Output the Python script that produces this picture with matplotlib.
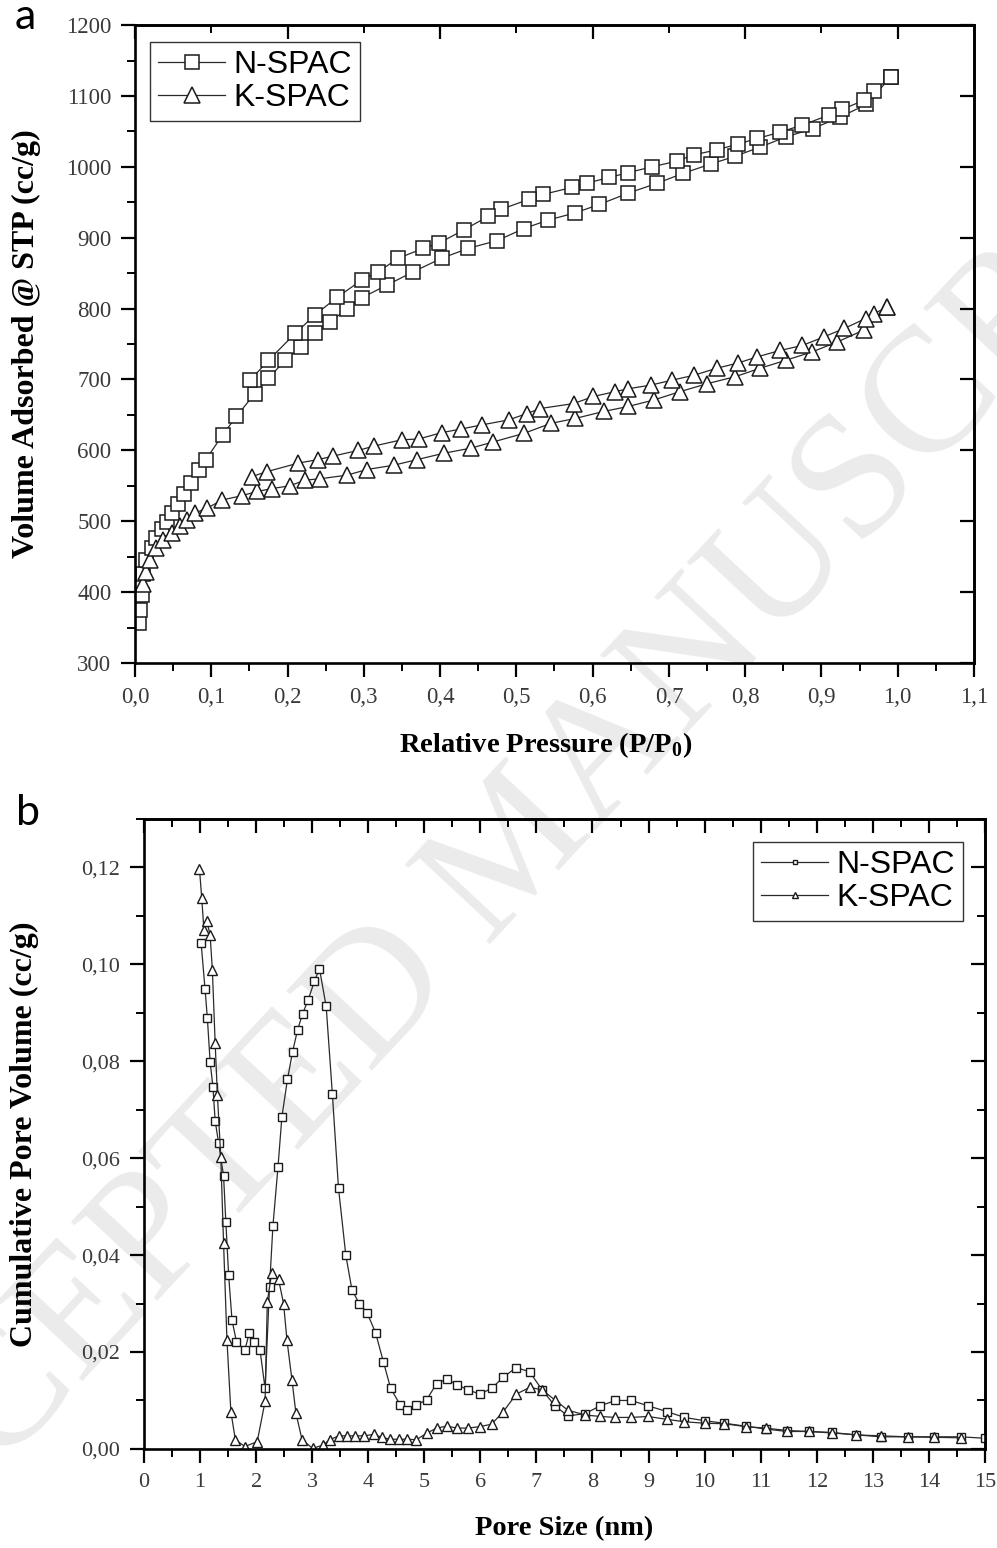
import matplotlib.pyplot as plt
from matplotlib.ticker import MultipleLocator, FuncFormatter, NullFormatter

# (a) N2 isotherms
n_ads_p = [0.005, 0.007, 0.009, 0.011, 0.015, 0.022, 0.028, 0.035, 0.042, 0.049, 0.057, 0.064,
           0.073, 0.084, 0.093, 0.115, 0.133, 0.157, 0.175, 0.197, 0.217, 0.236, 0.256, 0.278,
           0.297, 0.330, 0.365, 0.402, 0.437, 0.475, 0.510, 0.542, 0.577, 0.609, 0.647, 0.685,
           0.719, 0.755, 0.787, 0.820, 0.853, 0.889, 0.924, 0.959, 0.991]
n_ads_v = [356, 375, 396, 426, 445, 462, 476, 489, 499, 511, 524, 539,
           554, 573, 587, 622, 648, 680, 702, 727, 746, 765, 781, 800,
           815, 833, 852, 871, 885, 896, 913, 925, 935, 947, 963, 977,
           991, 1004, 1015, 1028, 1042, 1054, 1070, 1088, 1127]
n_des_p = [0.991, 0.969, 0.956, 0.927, 0.910, 0.875, 0.846, 0.816, 0.790, 0.763, 0.733, 0.710,
           0.678, 0.647, 0.622, 0.592, 0.573, 0.535, 0.516, 0.480, 0.463, 0.431, 0.398, 0.378,
           0.345, 0.319, 0.297, 0.265, 0.236, 0.210, 0.175, 0.151]
n_des_v = [1127, 1107, 1094, 1081, 1073, 1059, 1049, 1040, 1032, 1024, 1017, 1008,
           1000, 992, 985, 977, 971, 961, 954, 940, 930, 911, 892, 885,
           871, 852, 840, 816, 791, 765, 727, 699]

k_ads_p = [0.011, 0.014, 0.020, 0.028, 0.037, 0.048, 0.059, 0.068, 0.079, 0.094, 0.114, 0.140,
           0.160, 0.179, 0.203, 0.223, 0.243, 0.278, 0.304, 0.339, 0.370, 0.405, 0.440, 0.470,
           0.510, 0.545, 0.577, 0.615, 0.647, 0.680, 0.715, 0.750, 0.787, 0.820, 0.853, 0.888,
           0.921, 0.956, 0.986]
k_ads_v = [412, 429, 445, 462, 474, 484, 493, 502, 512, 518, 530, 536,
           542, 546, 550, 558, 560, 565, 573, 579, 587, 596, 603, 612,
           624, 638, 645, 655, 662, 671, 683, 694, 704, 716, 727, 739,
           753, 770, 802]
k_des_p = [0.986, 0.969, 0.958, 0.930, 0.903, 0.875, 0.846, 0.816, 0.790, 0.763, 0.733, 0.704,
           0.676, 0.647, 0.630, 0.601, 0.575, 0.531, 0.514, 0.490, 0.455, 0.427, 0.402, 0.372,
           0.350, 0.313, 0.293, 0.260, 0.240, 0.214, 0.173, 0.153]
k_des_v = [802, 793, 786, 772, 760, 748, 741, 732, 723, 716, 706, 699,
           692, 687, 683, 676, 666, 659, 652, 643, 636, 630, 625, 616,
           615, 606, 600, 592, 587, 582, 570, 563]

# (b) pore size distribution
n_size = [1.02, 1.09, 1.13, 1.18, 1.23, 1.27, 1.33, 1.42, 1.46, 1.51, 1.57, 1.65, 1.80, 1.88,
          1.96, 2.07, 2.16, 2.24, 2.30, 2.39, 2.46, 2.56, 2.65, 2.74, 2.83, 2.93, 3.04, 3.13,
          3.25, 3.36, 3.47, 3.60, 3.71, 3.84, 3.98, 4.13, 4.27, 4.40, 4.57, 4.70, 4.86, 5.04,
          5.22, 5.40, 5.59, 5.78, 5.99, 6.20, 6.41, 6.64, 6.88, 7.10, 7.33, 7.56, 7.87, 8.14,
          8.41, 8.69, 8.99, 9.33, 9.64, 10.01, 10.35, 10.73, 11.09, 11.47, 11.86, 12.27, 12.70,
          13.15, 13.62, 14.09, 14.57, 15.0]
n_vol = [0.1043, 0.0948, 0.0890, 0.0799, 0.0747, 0.0677, 0.0632, 0.0563, 0.0469, 0.0359, 0.0266,
         0.0221, 0.0204, 0.0240, 0.0221, 0.0204, 0.0125, 0.0335, 0.0460, 0.0581, 0.0685, 0.0763,
         0.0819, 0.0865, 0.0898, 0.0927, 0.0965, 0.0991, 0.0913, 0.0733, 0.0538, 0.0400, 0.0328,
         0.0300, 0.0281, 0.0240, 0.0180, 0.0125, 0.0091, 0.0080, 0.0091, 0.0101, 0.0135, 0.0144,
         0.0132, 0.0122, 0.0113, 0.0125, 0.0148, 0.0168, 0.0159, 0.0122, 0.0089, 0.0068, 0.0073,
         0.0089, 0.0100, 0.0100, 0.0089, 0.0077, 0.0065, 0.0058, 0.0053, 0.0047, 0.0041, 0.0036,
         0.0036, 0.0034, 0.0029, 0.0025, 0.0025, 0.0025, 0.0025, 0.0022]
k_size = [0.99, 1.03, 1.07, 1.12, 1.18, 1.22, 1.27, 1.31, 1.37, 1.42, 1.48, 1.55, 1.63, 1.80,
          2.02, 2.16, 2.20, 2.28, 2.40, 2.49, 2.55, 2.64, 2.71, 2.82, 3.01, 3.19, 3.32, 3.47,
          3.62, 3.77, 3.92, 4.10, 4.24, 4.39, 4.54, 4.70, 4.86, 5.05, 5.22, 5.40, 5.59, 5.78,
          5.99, 6.20, 6.41, 6.64, 6.88, 7.10, 7.33, 7.56, 7.87, 8.14, 8.41, 8.69, 8.99, 9.33,
          9.64, 10.01, 10.35, 10.73, 11.09, 11.47, 11.86, 12.27, 12.70, 13.15, 13.62, 14.09, 14.57]
k_vol = [0.1197, 0.1137, 0.1070, 0.1090, 0.1060, 0.0988, 0.0837, 0.0730, 0.0603, 0.0424, 0.0225,
         0.0077, 0.0019, 0.0005, 0.0015, 0.0098, 0.0304, 0.0364, 0.0350, 0.0300, 0.0225, 0.0142,
         0.0074, 0.0019, 0.0001, 0.0008, 0.0019, 0.0027, 0.0027, 0.0027, 0.0027, 0.0030, 0.0024,
         0.0020, 0.0020, 0.0020, 0.0019, 0.0033, 0.0043, 0.0047, 0.0043, 0.0043, 0.0046, 0.0051,
         0.0077, 0.0113, 0.0127, 0.0122, 0.0101, 0.0080, 0.0070, 0.0067, 0.0065, 0.0065, 0.0067,
         0.0061, 0.0056, 0.0053, 0.0052, 0.0046, 0.0043, 0.0038, 0.0036, 0.0033, 0.0029, 0.0027,
         0.0025, 0.0024, 0.0023]

serif = 'Liberation Serif'
sans = 'Liberation Sans'
tick_col = '#3a3a3a'
line_col = '#2a2a2a'


def comma(fmt):
    return FuncFormatter(lambda v, pos: format(v, fmt).replace('.', ','))


def style(ax, xmaj, xmin, ymaj, ymin, top_maj, top_min, right_min, tsize):
    for s in ax.spines.values():
        s.set_linewidth(1.9)
    ax.xaxis.set_major_locator(MultipleLocator(xmaj))
    ax.xaxis.set_minor_locator(MultipleLocator(xmin))
    ax.yaxis.set_major_locator(MultipleLocator(ymaj))
    ax.yaxis.set_minor_locator(MultipleLocator(ymin))
    ax.tick_params(which='major', direction='out', length=10, width=1.6, pad=7,
                   labelsize=tsize, labelcolor=tick_col)
    ax.tick_params(which='minor', direction='out', length=5.5, width=1.4)
    for lab in ax.get_xticklabels() + ax.get_yticklabels():
        lab.set_fontfamily(serif)

    # Origin-style mirrored ticks, pointing inward
    top = ax.secondary_xaxis('top')
    top.xaxis.set_major_locator(MultipleLocator(top_maj))
    top.xaxis.set_minor_locator(MultipleLocator(top_min))
    top.xaxis.set_major_formatter(NullFormatter())
    top.tick_params(which='major', direction='in', length=10, width=1.6)
    top.tick_params(which='minor', direction='in', length=5.5, width=1.4)
    top.spines['top'].set_linewidth(1.9)
    right = ax.secondary_yaxis('right')
    right.yaxis.set_major_locator(MultipleLocator(ymaj))
    if right_min:
        right.yaxis.set_minor_locator(MultipleLocator(right_min))
    else:
        right.yaxis.set_minor_locator(plt.NullLocator())
    right.yaxis.set_major_formatter(NullFormatter())
    right.tick_params(which='major', direction='in', length=10, width=1.6)
    right.tick_params(which='minor', direction='in', length=5.5, width=1.4)
    right.spines['right'].set_linewidth(1.9)


fig = plt.figure(figsize=(9.97, 15.48), dpi=100)

# faint diagonal watermark behind the plots (runs off the page, as in the original)
fig.text(0.52, 0.45, 'ACCEPTED MANUSCRIPT', rotation=47, ha='center', va='center',
         fontsize=128, family=serif, color='#ebebeb', zorder=-1)

# ---- panel a ----
ax1 = fig.add_axes([0.1354, 0.5717, 0.8415, 0.4121])
ax1.patch.set_alpha(0)
mk_a = dict(color=line_col, lw=0.9, mfc='white', mec='#1a1a1a', mew=1.1)
ax1.plot(n_ads_p, n_ads_v, marker='s', ms=10, label='N-SPAC', **mk_a)
ax1.plot(n_des_p, n_des_v, marker='s', ms=10, **mk_a)
ax1.plot(k_ads_p, k_ads_v, marker='^', ms=11.5, label='K-SPAC', **mk_a)
ax1.plot(k_des_p, k_des_v, marker='^', ms=11.5, **mk_a)
ax1.set_xlim(0, 1.1)
ax1.set_ylim(300, 1200)
style(ax1, 0.1, 0.05, 100, 50, 0.2, 0.1, None, 16.5)
ax1.xaxis.set_major_formatter(comma('.1f'))
ax1.set_xlabel('Relative Pressure (P/P$_\\mathregular{0}$)', family=serif, weight='bold',
               fontsize=20.5)
ax1.xaxis.set_label_coords(0.49, -0.106)
ax1.set_ylabel('Volume Adsorbed @ STP (cc/g)', family=serif, weight='bold', fontsize=23)
ax1.yaxis.set_label_coords(-0.112, 0.5)
leg1 = ax1.legend(loc='upper left', bbox_to_anchor=(0.018, 0.973), borderaxespad=0,
                  prop={'family': sans, 'size': 23}, handlelength=2.1, handletextpad=0.25,
                  labelspacing=0.1, borderpad=0.25, fancybox=False, edgecolor='#333333',
                  framealpha=1)
leg1.get_frame().set_linewidth(1.0)
fig.text(0.025, 0.981, 'a', family='Lato', fontsize=31, ha='center', va='baseline')

# ---- panel b ----
ax2 = fig.add_axes([0.1444, 0.064, 0.8435, 0.407])
ax2.patch.set_alpha(0)
mk_b = dict(color=line_col, lw=0.9, mfc='white', mec='#1a1a1a', mew=1.0)
ax2.plot(n_size, n_vol, marker='s', ms=5.5, label='N-SPAC', **mk_b)
ax2.plot(k_size, k_vol, marker='^', ms=6.5, label='K-SPAC', **mk_b)
ax2.set_xlim(0, 15)
ax2.set_ylim(0, 0.13)
style(ax2, 1, 0.5, 0.02, 0.01, 1, 0.5, 0.01, 16)
ax2.yaxis.set_major_formatter(comma('.2f'))
ax2.set_xlabel('Pore Size (nm)', family=serif, weight='bold', fontsize=20.5)
ax2.xaxis.set_label_coords(0.5, -0.106)
ax2.set_ylabel('Cumulative Pore Volume (cc/g)', family=serif, weight='bold', fontsize=23)
ax2.yaxis.set_label_coords(-0.125, 0.5)
leg2 = ax2.legend(loc='upper right', bbox_to_anchor=(0.974, 0.963), borderaxespad=0,
                  prop={'family': sans, 'size': 23}, handlelength=2.1, handletextpad=0.25,
                  labelspacing=0.1, borderpad=0.25, fancybox=False, edgecolor='#333333',
                  framealpha=1, markerscale=0.6)
leg2.get_frame().set_linewidth(1.0)
fig.text(0.028, 0.467, 'b', family='Lato', fontsize=31, ha='center', va='baseline')

fig.savefig('out.png', dpi=100)
